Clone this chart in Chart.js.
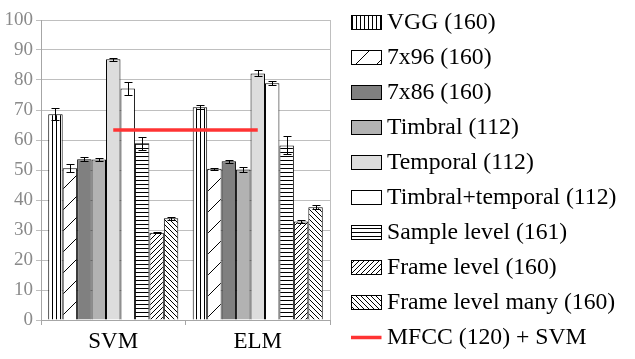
<!DOCTYPE html>
<html><head><meta charset="utf-8">
<script src="https://cdn.jsdelivr.net/npm/chart.js@4/dist/chart.umd.min.js"></script>
<style>html,body{margin:0;padding:0;background:#fff;} #wrap{width:635px;height:359px;position:relative;}
#probe{position:absolute;left:-1000px;top:0;font-family:"Liberation Serif";font-size:22px;}</style>
</head><body><div id="wrap"><canvas id="c" width="635" height="359"></canvas></div>
<div id="probe">VGG 0123456789 SVM ELM</div>
<script>
// ---- data ----
const categories = ['SVM', 'ELM'];
const seriesNames = ['VGG (160)', '7x96 (160)', '7x86 (160)', 'Timbral (112)', 'Temporal (112)',
  'Timbral+temporal (112)', 'Sample level (161)', 'Frame level (160)', 'Frame level many (160)'];
const vgg = [68.6, 70.9];            const vggErr = [2.0, 0.7];
const c7x96 = [50.6, 50.4];          const c7x96Err = [1.4, 0.3];
const c7x86 = [53.6, 52.9];          const c7x86Err = [0.7, 0.4];
const timbral = [53.5, 50.2];        const timbralErr = [0.45, 0.7];
const temporal = [86.9, 82.2];       const temporalErr = [0.6, 1.0];
const timbralTemporal = [77.2, 78.9]; const timbralTemporalErr = [2.1, 0.6];
const sampleLevel = [58.9, 58.2];    const sampleLevelErr = [2.1, 3.0];
const frameLevel = [29.1, 32.8];     const frameLevelErr = [0.25, 0.45];
const frameLevelMany = [33.9, 37.6]; const frameLevelManyErr = [0.45, 0.65];
const mfccName = 'MFCC (120) + SVM';
const mfcc = [63.3, 63.3];
const yMin = 0, yMax = 100, yStep = 10;

const seriesValues = [vgg, c7x96, c7x86, timbral, temporal, timbralTemporal, sampleLevel, frameLevel, frameLevelMany];
const seriesErrors = [vggErr, c7x96Err, c7x86Err, timbralErr, temporalErr, timbralTemporalErr, sampleLevelErr, frameLevelErr, frameLevelManyErr];

// ---- patterns ----
const helperCtx = document.createElement('canvas').getContext('2d');
function makePattern(w, h, draw) {
  const cv = document.createElement('canvas'); cv.width = w; cv.height = h;
  const x = cv.getContext('2d');
  x.fillStyle = '#fff'; x.fillRect(0, 0, w, h);
  x.fillStyle = '#000'; x.strokeStyle = '#000'; x.lineWidth = 1;
  draw(x, w, h);
  return helperCtx.createPattern(cv, 'repeat');
}
function slash(x, n) { x.beginPath(); x.moveTo(-1, n + 1); x.lineTo(n + 1, -1); x.moveTo(-1, 1); x.lineTo(1, -1); x.moveTo(n - 1, n + 1); x.lineTo(n + 1, n - 1); x.stroke(); }
function backslash(x, n) { x.beginPath(); x.moveTo(-1, -1); x.lineTo(n + 1, n + 1); x.moveTo(n - 1, -1); x.lineTo(n + 1, 1); x.moveTo(-1, n - 1); x.lineTo(1, n + 1); x.stroke(); }
const fills = [
  makePattern(4, 4, (x) => x.fillRect(0, 0, 1, 4)),
  makePattern(21, 21, (x, w) => slash(x, w)),
  '#808080',
  '#B2B2B2',
  '#DDDDDD',
  '#FFFFFF',
  makePattern(4, 4, (x) => x.fillRect(0, 0, 4, 1)),
  makePattern(5, 5, (x, w) => slash(x, w)),
  makePattern(5, 5, (x, w) => backslash(x, w)),
];
const lineColor = '#FF3333';
const serif = "'Liberation Serif', 'DejaVu Serif', serif";

const datasets = seriesNames.map((name, i) => ({
  type: 'bar', label: name, data: seriesValues[i], errors: seriesErrors[i],
  backgroundColor: fills[i], borderColor: '#000', borderWidth: 1, order: 2,
  categoryPercentage: 0.9, barPercentage: 1.0
}));
datasets.push({
  type: 'line', label: mfccName, data: mfcc, borderColor: lineColor, borderWidth: 3.5,
  pointRadius: 0, fill: false, order: 0, borderCapStyle: 'butt'
});

const errorBarPlugin = {
  id: 'errorBars',
  afterDatasetsDraw(chart) {
    const ctx = chart.ctx, y = chart.scales.y;
    ctx.save(); ctx.strokeStyle = '#000'; ctx.lineWidth = 1;
    chart.data.datasets.forEach((ds, i) => {
      if (!ds.errors) return;
      const meta = chart.getDatasetMeta(i);
      meta.data.forEach((el, j) => {
        const v = ds.data[j], e = ds.errors[j];
        const x = Math.round(el.x) + 0.5;
        const t = Math.round(y.getPixelForValue(v + e)) + 0.5;
        const b = Math.round(y.getPixelForValue(v - e)) + 0.5;
        ctx.beginPath();
        ctx.moveTo(x, t); ctx.lineTo(x, b);
        ctx.moveTo(x - 4, t); ctx.lineTo(x + 4, t);
        ctx.moveTo(x - 4, b); ctx.lineTo(x + 4, b);
        ctx.stroke();
      });
    });
    ctx.restore();
  }
};

const framePlugin = {
  id: 'frameRight',
  beforeDatasetsDraw(chart) {
    const { ctx, chartArea } = chart;
    ctx.save(); ctx.strokeStyle = '#BFBFBF'; ctx.lineWidth = 1;
    const x = Math.round(chartArea.right) + 0.5;
    ctx.beginPath(); ctx.moveTo(x, chartArea.top); ctx.lineTo(x, chartArea.bottom); ctx.stroke();
    ctx.restore();
  }
};

const legendPlugin = {
  id: 'customLegend',
  afterDraw(chart) {
    const ctx = chart.ctx;
    const bx = 351.5, bw = 30, bh = 14, tx = 387, y0 = 22, dy = 35.0;
    ctx.save();
    ctx.font = "23.7px 'Liberation Serif', 'DejaVu Serif', serif";
    ctx.textBaseline = 'middle'; ctx.textAlign = 'left';
    chart.data.datasets.forEach((ds, i) => {
      const cy = y0 + i * dy;
      if (ds.type === 'line') {
        ctx.strokeStyle = ds.borderColor; ctx.lineWidth = 3.5;
        ctx.beginPath(); ctx.moveTo(bx - 0.5, Math.round(cy) + 0.5); ctx.lineTo(bx + bw, Math.round(cy) + 0.5); ctx.stroke();
      } else {
        const top = Math.round(cy - bh / 2) + 0.5;
        ctx.fillStyle = ds.backgroundColor;
        ctx.fillRect(bx, top, bw, bh);
        ctx.strokeStyle = '#000'; ctx.lineWidth = 1;
        ctx.strokeRect(bx, top, bw, bh);
      }
      ctx.fillStyle = '#000';
      ctx.fillText(ds.label, tx, cy + 1);
    });
    ctx.restore();
  }
};

function build() {
  new Chart(document.getElementById('c'), {
    data: { labels: categories, datasets },
    options: {
      responsive: false, animation: false, devicePixelRatio: 1,
      layout: { padding: { left: 0, top: 20, right: 305, bottom: 0 } },
      plugins: { legend: { display: false }, tooltip: { enabled: false } },
      scales: {
        x: {
          offset: true,
          grid: { display: true, drawOnChartArea: false, drawTicks: true, tickLength: 5, offset: true, color: '#A6A6A6' },
          border: { display: true, color: '#A6A6A6' },
          ticks: { color: '#000', font: { family: serif, size: 23 }, padding: 3 },
          afterFit(s) { s.height = 39; }
        },
        y: {
          min: yMin, max: yMax,
          grid: { color: '#BFBFBF', tickLength: 5 },
          border: { display: true, color: '#A6A6A6' },
          ticks: { stepSize: yStep, color: '#8A8A8A', font: { family: serif, size: 19 }, padding: 3 },
          afterFit(s) { s.width = 41; }
        }
      }
    },
    plugins: [framePlugin, errorBarPlugin, legendPlugin]
  });
}
Promise.all([
  document.fonts.load("22px 'Liberation Serif'"),
  document.fonts.load("18px 'Liberation Serif'")
]).then(build, build);
</script></body></html>
